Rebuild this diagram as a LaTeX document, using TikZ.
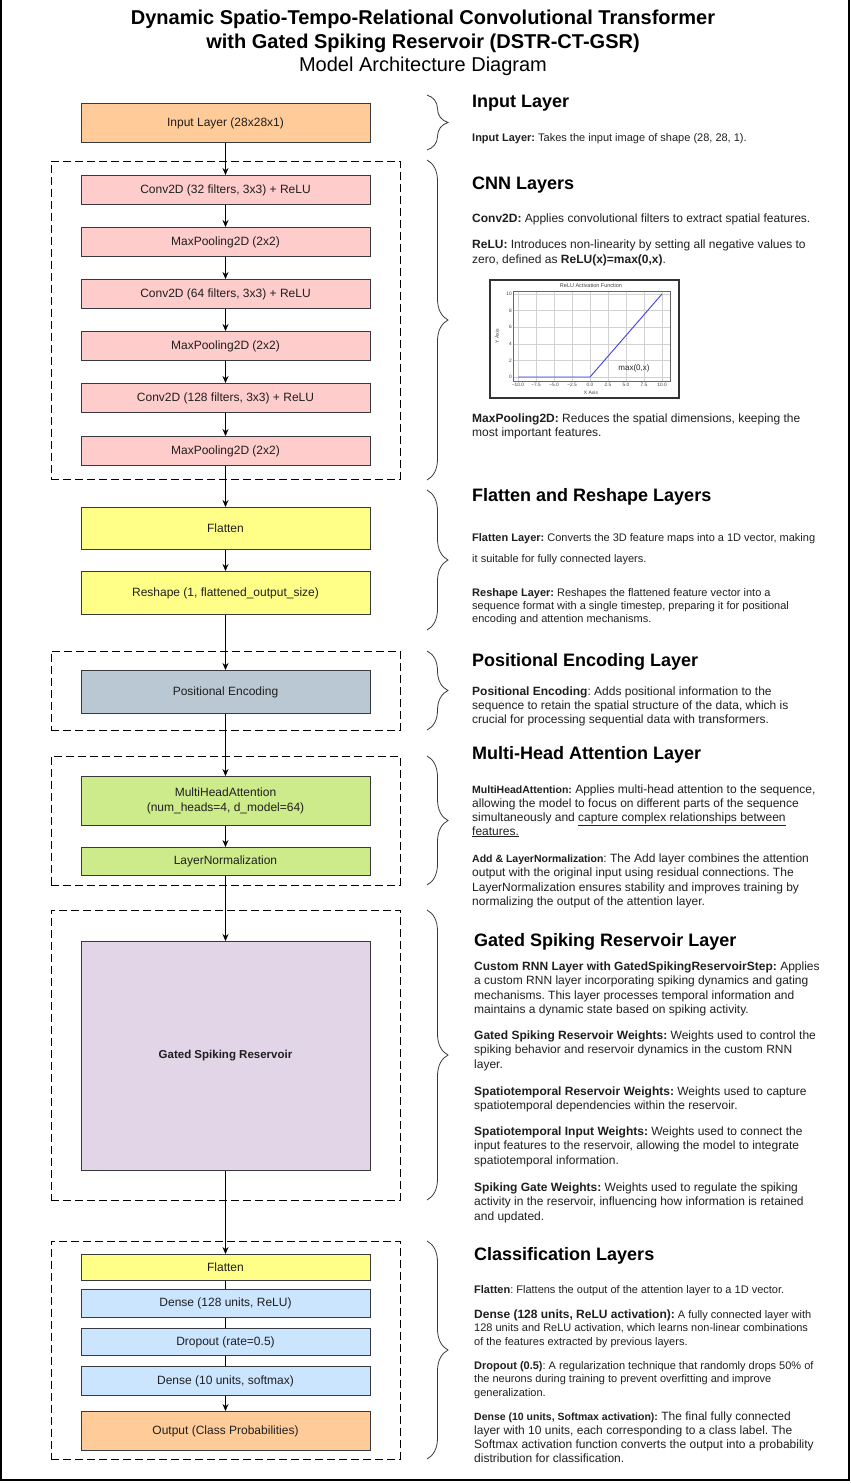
\documentclass[tikz,border=0pt]{standalone}
\usepackage{fontspec}
\setmainfont{Liberation Sans}
\usepackage{xcolor}
\usepackage{tikz}
\usetikzlibrary{arrows.meta,positioning,fit,decorations.pathreplacing}
\frenchspacing
\definecolor{InOrange}{HTML}{FFCC99}
\definecolor{ConvPink}{HTML}{FFCCCC}
\definecolor{FlatYellow}{HTML}{FFFF88}
\definecolor{PosSlate}{HTML}{BAC8D3}
\definecolor{AttnGreen}{HTML}{CDEB8B}
\definecolor{ResPurple}{HTML}{E1D5E7}
\definecolor{DenseBlue}{HTML}{CCE5FF}
\definecolor{BoxLine}{HTML}{36393D}
\definecolor{BodyText}{HTML}{1F1F1F}
\definecolor{PlotBlue}{HTML}{4040E0}
\tikzset{
  layerbox/.style={draw=BoxLine,line width=0.8pt,minimum width=289pt,inner sep=2pt,align=center,font=\fontsize{12}{14.5}\selectfont,text=BodyText},
  inbox/.style={layerbox,fill=InOrange,minimum height=39.2pt},
  convbox/.style={layerbox,fill=ConvPink,minimum height=29.2pt},
  flatbox/.style={layerbox,fill=FlatYellow},
  posbox/.style={layerbox,fill=PosSlate,minimum height=43.2pt},
  attnbox/.style={layerbox,fill=AttnGreen},
  resbox/.style={layerbox,fill=ResPurple,minimum height=229.2pt},
  densebox/.style={layerbox,fill=DenseBlue},
  flowarrow/.style={-{Stealth[length=7pt,width=6pt]},line width=0.8pt,draw=black},
  flowline/.style={line width=0.8pt,draw=black},
  groupbox/.style={draw=black,line width=0.8pt,dash pattern=on 8pt off 4pt,inner sep=0pt},
  sidebrace/.style={decorate,decoration={brace,amplitude=21pt},draw=BoxLine,line width=0.8pt},
  frameline/.style={draw=black,line width=1.4pt},
  titletext/.style={anchor=base,inner sep=0pt,font=\fontsize{20}{22}\selectfont\bfseries},
  headtext/.style={anchor=base west,inner sep=0pt,font=\fontsize{18}{21}\selectfont\bfseries},
  % multi-line notes are anchored at the baseline of their last line
  desctext/.style={anchor=base west,inner sep=0pt,align=left,text=BodyText,font=\fontsize{12}{14.5}\selectfont},
  smalltext/.style={desctext,font=\fontsize{11}{13.5}\selectfont},
  plotframe/.style={draw=black!80,line width=1.6pt,fill=white,inner sep=0pt},
  plotgrid/.style={draw=black!18,line width=0.4pt},
  ticklabel/.style={inner sep=1pt,font=\fontsize{4.8}{5}\selectfont,text=black!75}
}

\begin{document}
\begin{tikzpicture}[x=1pt,y=-1pt]
\useasboundingbox (0,0) rectangle (851,1484);
\draw[frameline] (1,0) -- (1,1480) -- (849,1480) -- (849,0);

% title
\node[titletext] (ttl1) at (423,24) {Dynamic Spatio-Tempo-Relational Convolutional Transformer};
\node[titletext] (ttl2) at (423,48) {with Gated Spiking Reservoir (DSTR-CT-GSR)};
\node[titletext,font=\fontsize{20}{22}\selectfont] (ttl3) at (423,71) {Model Architecture Diagram};

% layer stack
\node[inbox] (inp) at (225.5,123) {Input Layer (28x28x1)};
\node[convbox,below=32pt of inp] (conv1) {Conv2D (32 filters, 3x3) + ReLU};
\node[convbox,below=22pt of conv1] (pool1) {MaxPooling2D (2x2)};
\node[convbox,below=22pt of pool1] (conv2) {Conv2D (64 filters, 3x3) + ReLU};
\node[convbox,below=22pt of conv2] (pool2) {MaxPooling2D (2x2)};
\node[convbox,below=22pt of pool2] (conv3) {Conv2D (128 filters, 3x3) + ReLU};
\node[convbox,below=23pt of conv3] (pool3) {MaxPooling2D (2x2)};
\node[flatbox,minimum height=42.2pt,below=41pt of pool3] (flat) {Flatten};
\node[flatbox,minimum height=43.2pt,below=21pt of flat] (reshape) {Reshape (1, flattened\_output\_size)};
\node[posbox,below=55pt of reshape] (posenc) {Positional Encoding};
\node[attnbox,minimum height=49.2pt,below=62pt of posenc] (mha) {MultiHeadAttention\\(num\_heads=4, d\_model=64)};
\node[attnbox,minimum height=28.2pt,below=21pt of mha] (lnorm) {LayerNormalization};
\node[resbox,below=65pt of lnorm,font=\fontsize{11.5}{14}\selectfont\bfseries] (gsr) {Gated Spiking Reservoir};
\node[flatbox,minimum height=26.2pt,below=83pt of gsr] (flat2) {Flatten};
\node[densebox,minimum height=28.2pt,below=8pt of flat2] (dense1) {Dense (128 units, ReLU)};
\node[densebox,minimum height=27.2pt,below=10pt of dense1] (drop) {Dropout (rate=0.5)};
\node[densebox,minimum height=29.2pt,below=10pt of drop] (dense2) {Dense (10 units, softmax)};
\node[inbox,below=15pt of dense2] (outp) {Output (Class Probabilities)};

% dashed groups
\node[groupbox,fit={(51,161) (400,479)}] (cnngrp) {};
\node[groupbox,fit={(51,651) (400,730)}] (posgrp) {};
\node[groupbox,fit={(51,756) (400,885)}] (attngrp) {};
\node[groupbox,fit={(51,910) (400,1200)}] (resgrp) {};
\node[groupbox,fit={(51,1241) (400,1459)}] (clsgrp) {};

% flow
\draw[flowarrow] (inp) -- (conv1);
\draw[flowarrow] (conv1) -- (pool1);
\draw[flowarrow] (pool1) -- (conv2);
\draw[flowarrow] (conv2) -- (pool2);
\draw[flowarrow] (pool2) -- (conv3);
\draw[flowarrow] (conv3) -- (pool3);
\draw[flowarrow] (pool3) -- (flat);
\draw[flowarrow] (flat) -- (reshape);
\draw[flowarrow] (reshape) -- (posenc);
\draw[flowarrow] (posenc) -- (mha);
\draw[flowarrow] (mha) -- (lnorm);
\draw[flowarrow] (lnorm) -- (gsr);
\draw[flowarrow] (gsr) -- (flat2);
\draw[flowline] (flat2) -- (dense1);
\draw[flowline] (dense1) -- (drop);
\draw[flowline] (drop) -- (dense2);
\draw[flowarrow] (dense2) -- (outp);

% braces
\draw[sidebrace] (427,95) -- (427,150);
\draw[sidebrace] (427,160) -- (427,480);
\draw[sidebrace] (427,490) -- (427,630);
\draw[sidebrace] (427,651) -- (427,730);
\draw[sidebrace] (427,756) -- (427,885);
\draw[sidebrace] (427,910) -- (427,1200);
\draw[sidebrace] (427,1241) -- (427,1459);

% input notes
\node[headtext] (hInput) at (472,107) {Input Layer};
\node[smalltext] (nInput) at (472,141) {\textbf{Input Layer:} Takes the input image of shape (28, 28, 1).};

% cnn notes
\node[headtext] (hCnn) at (472,189) {CNN Layers};
\node[desctext] (nConv) at (472,222) {\textbf{Conv2D:} Applies convolutional filters to extract spatial features.};
\node[desctext,font=\fontsize{12}{15}\selectfont] (nRelu) at (472,263) {\textbf{ReLU:} Introduces non-linearity by setting all negative values to\\zero, defined as \textbf{ReLU(x)=max(0,x)}.};
\node[desctext,font=\fontsize{12}{14}\selectfont] (nPool) at (472,436) {\textbf{MaxPooling2D:} Reduces the spatial dimensions, keeping the\\most important features.};

% relu plot
\node[plotframe,fit={(490,280) (679,398)}] (reluplot) {};
\foreach \v/\lab in {-10/−10.0,-7.5/−7.5,-5/−5.0,-2.5/−2.5,0/0.0,2.5/2.5,5/5.0,7.5/7.5,10/10.0} {
  \draw[plotgrid] ({590+7.2*\v},291) -- ({590+7.2*\v},381);
  \node[ticklabel,anchor=north] at ({590+7.2*\v},381.5) {\lab};
}
\foreach \v in {0,2,...,10} {
  \draw[plotgrid] (513,{377-8.3*\v}) -- (670,{377-8.3*\v});
  \node[ticklabel,anchor=east] at (513,{377-8.3*\v}) {\v};
}
\draw[draw=black!60,line width=0.4pt] (513,291) rectangle (670,381);
\draw[draw=PlotBlue,line width=0.9pt] (518,377) -- (590,377) -- (662,294);
\node[ticklabel,font=\fontsize{5.5}{6}\selectfont] (plotTitle) at (591,286) {ReLU Activation Function};
\node[ticklabel,font=\fontsize{5}{6}\selectfont] (xLabel) at (591,393) {X Axis};
\node[ticklabel,font=\fontsize{5}{6}\selectfont,rotate=90] (yLabel) at (497,336) {Y Axis};
\node[ticklabel,font=\fontsize{8}{9}\selectfont,text=black!85] (maxLabel) at (634,368) {max(0,x)};

% flatten notes
\node[headtext] (hFlat) at (472,501) {Flatten and Reshape Layers};
\node[smalltext,font=\fontsize{11}{21}\selectfont] (nFlat) at (472,562) {\textbf{Flatten Layer:} Converts the 3D feature maps into a 1D vector, making\\it suitable for fully connected layers.};
\node[smalltext,font=\fontsize{11}{13}\selectfont] (nReshape) at (472,622) {\textbf{Reshape Layer:} Reshapes the flattened feature vector into a\\sequence format with a single timestep, preparing it for positional\\encoding and attention mechanisms.};

% positional notes
\node[headtext] (hPos) at (472,666) {Positional Encoding Layer};
\node[desctext,font=\fontsize{12}{14}\selectfont] (nPos) at (472,723) {\textbf{Positional Encoding}: Adds positional information to the\\sequence to retain the spatial structure of the data, which is\\crucial for processing sequential data with transformers.};

% attention notes
\node[headtext] (hAttn) at (472,759) {Multi-Head Attention Layer};
\node[desctext,font=\fontsize{12}{14}\selectfont] (nMha) at (472,835) {{\fontsize{10.5}{14}\selectfont\bfseries MultiHeadAttention:} Applies multi-head attention to the sequence,\\allowing the model to focus on different parts of the sequence\\simultaneously and \underline{capture complex relationships between}\\\underline{features.}};
\node[desctext,font=\fontsize{12}{14.5}\selectfont] (nNorm) at (472,905.5) {{\fontsize{10.5}{14.5}\selectfont\bfseries Add \& LayerNormalization}: The Add layer combines the attention\\output with the original input using residual connections. The\\LayerNormalization ensures stability and improves training by\\normalizing the output of the attention layer.};

% reservoir notes
\node[headtext] (hRes) at (474,946) {Gated Spiking Reservoir Layer};
\node[desctext] (nRes1) at (474,1013.5) {\textbf{Custom RNN Layer with GatedSpikingReservoirStep:} Applies\\a custom RNN layer incorporating spiking dynamics and gating\\mechanisms. This layer processes temporal information and\\maintains a dynamic state based on spiking activity.};
\node[desctext] (nRes2) at (474,1068) {\textbf{Gated Spiking Reservoir Weights:} Weights used to control the\\spiking behavior and reservoir dynamics in the custom RNN\\layer.};
\node[desctext] (nRes3) at (474,1109.5) {\textbf{Spatiotemporal Reservoir Weights:} Weights used to capture\\spatiotemporal dependencies within the reservoir.};
\node[desctext] (nRes4) at (474,1164) {\textbf{Spatiotemporal Input Weights:} Weights used to connect the\\input features to the reservoir, allowing the model to integrate\\spatiotemporal information.};
\node[desctext] (nRes5) at (474,1220) {\textbf{Spiking Gate Weights:} Weights used to regulate the spiking\\activity in the reservoir, influencing how information is retained\\and updated.};

% classification notes
\node[headtext] (hCls) at (474,1260) {Classification Layers};
\node[smalltext] (nCls1) at (474,1293) {\textbf{Flatten}: Flattens the output of the attention layer to a 1D vector.};
\node[smalltext] (nCls2) at (474,1345) {{\fontsize{12}{13.5}\selectfont\bfseries Dense (128 units, ReLU activation):} A fully connected layer with\\128 units and ReLU activation, which learns non-linear combinations\\of the features extracted by previous layers.};
\node[smalltext] (nCls3) at (474,1396) {\textbf{Dropout (0.5)}: A regularization technique that randomly drops 50\% of\\the neurons during training to prevent overfitting and improve\\generalization.};
\node[desctext,font=\fontsize{12}{14}\selectfont] (nCls4) at (474,1462) {{\fontsize{10.5}{14}\selectfont\bfseries Dense (10 units, Softmax activation):} The final fully connected\\layer with 10 units, each corresponding to a class label. The\\Softmax activation function converts the output into a probability\\distribution for classification.};
\end{tikzpicture}
\end{document}
